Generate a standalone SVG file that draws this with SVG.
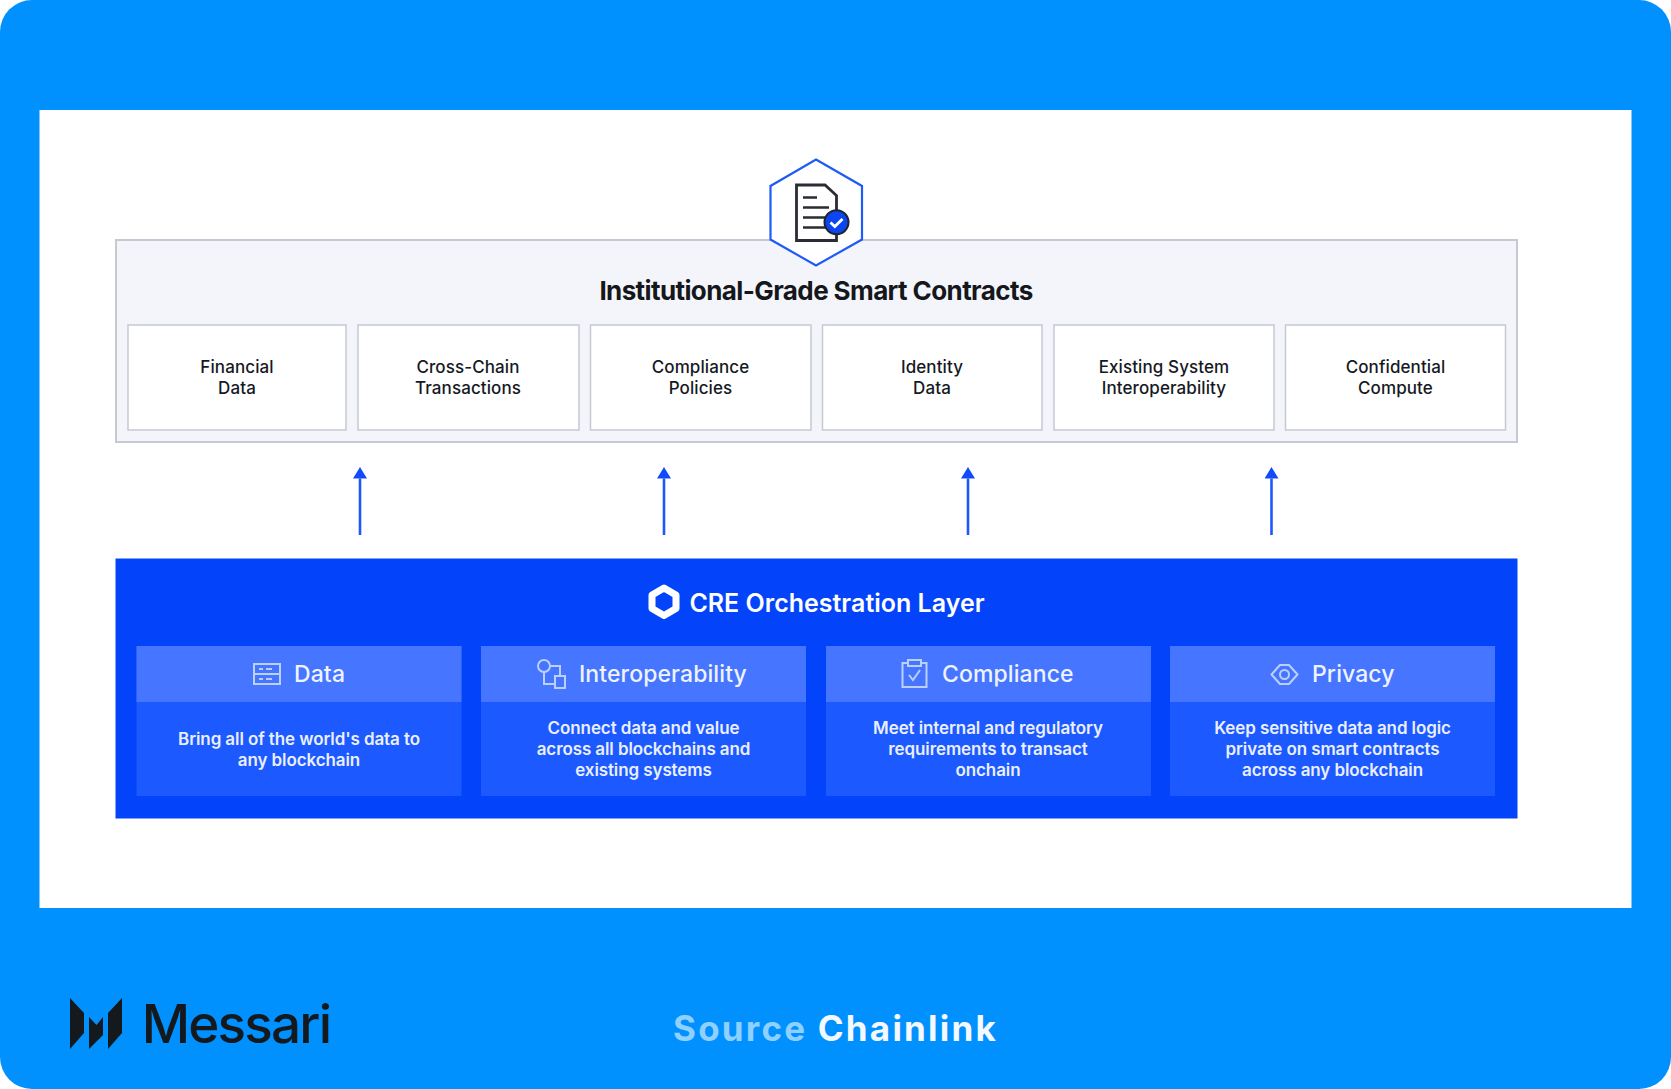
<svg xmlns="http://www.w3.org/2000/svg" width="1671" height="1089" viewBox="0 0 1671 1089">
<style>
text{font-family:Inter,"Liberation Sans",sans-serif;text-anchor:middle}
.box{fill:#fff;stroke:#c5c9d3;stroke-width:1.5}
.lab{font-size:17px;font-weight:500;fill:#16191f;letter-spacing:.1px}
.head{fill:#4675ff}.body{fill:#1c59ff}
.ht{font-size:23px;font-weight:500;fill:#eef3ff;letter-spacing:.1px;text-anchor:start}
.bt{font-size:17px;font-weight:600;fill:#e9efff;letter-spacing:-.1px}
.ic{fill:none;stroke:#bcd0ff;stroke-width:2}
.arr{stroke:#1f58fa;stroke-width:2.600;fill:none}
</style>
<defs><marker id="ah" markerUnits="userSpaceOnUse" markerWidth="12" markerHeight="14" refX="0" refY="7" orient="auto" viewBox="0 0 12 14"><path d="M0 0L11.500 7L0 14Z" fill="#0f4cf8"/></marker></defs>
<rect width="1671" height="1089" fill="#fff"/>
<rect width="1671" height="1089" rx="32" fill="#0091ff"/>
<rect x="39.500" y="110" width="1592" height="798" fill="#fff"/>
<g id="smart-contracts">
<rect x="116" y="240" width="1401" height="202" fill="#f4f5fa" stroke="#c5c9d3" stroke-width="2"/>
<text x="816" y="300" font-size="26" font-weight="700" fill="#14171c" letter-spacing="-.6">Institutional-Grade Smart Contracts</text>
</g>
<g id="hex-icon">
<path d="M816 159.500L862 186V239.500L816 265.500L770.500 239.500V186Z" fill="#fff" stroke="#1f5cf5" stroke-width="2.200"/>
<path d="M796.500 185H825L836.500 195.500V240.500H796.500Z" fill="#fff" stroke="#2a2d33" stroke-width="2.800"/>
<path d="M803 197.500H817M803 207.500H829M803 217.500H829M803 227.500H829" stroke="#2a2d33" stroke-width="2.500" fill="none"/>
<circle cx="836.500" cy="222.300" r="12" fill="#0b46f0" stroke="#20242c" stroke-width="2"/>
<path d="M830.500 222.500L834.800 226.500L842.500 219" stroke="#fff" stroke-width="2.800" fill="none"/>
</g>
<g id="financial"><rect class="box" x="128" y="325" width="218" height="105"/><text class="lab" x="237" y="373">Financial</text><text class="lab" x="237" y="394">Data</text></g>
<g id="cross-chain"><rect class="box" x="358" y="325" width="221" height="105"/><text class="lab" x="468" y="373">Cross-Chain</text><text class="lab" x="468" y="394">Transactions</text></g>
<g id="compliance-policies"><rect class="box" x="590.500" y="325" width="220.500" height="105"/><text class="lab" x="700.500" y="373">Compliance</text><text class="lab" x="700.500" y="394">Policies</text></g>
<g id="identity"><rect class="box" x="822.500" y="325" width="219.500" height="105"/><text class="lab" x="932" y="373">Identity</text><text class="lab" x="932" y="394">Data</text></g>
<g id="existing"><rect class="box" x="1054" y="325" width="220" height="105"/><text class="lab" x="1164" y="373">Existing System</text><text class="lab" x="1164" y="394">Interoperability</text></g>
<g id="confidential"><rect class="box" x="1285.500" y="325" width="220" height="105"/><text class="lab" x="1395.500" y="373">Confidential</text><text class="lab" x="1395.500" y="394">Compute</text></g>
<g id="connectors">
<path class="arr" marker-end="url(#ah)" d="M360 535V478.500"/>
<path class="arr" marker-end="url(#ah)" d="M664 535V478.500"/>
<path class="arr" marker-end="url(#ah)" d="M968 535V478.500"/>
<path class="arr" marker-end="url(#ah)" d="M1271.500 535V478.500"/>
</g>
<g id="cre-layer">
<rect x="115.500" y="558.500" width="1402" height="260" fill="#0344fb"/>
<path d="M664 588L676 595V608.500L664 615.500L652 608.500V595Z" fill="none" stroke="#fff" stroke-width="7" stroke-linejoin="round"/>
<text x="837" y="612" font-size="25" font-weight="600" fill="#fff" letter-spacing="0">CRE Orchestration Layer</text>
</g>
<g id="data">
<rect class="body" x="136.500" y="646" width="325" height="150"/><rect class="head" x="136.500" y="646" width="325" height="56"/>
<g class="ic"><rect x="254" y="664" width="26" height="20"/><path d="M254 674H280M259 669H263M266 669H272M259 679H263M266 679H272"/></g>
<text class="ht" x="294" y="682">Data</text>
<text class="bt" x="299" y="745">Bring all of the world's data to</text><text class="bt" x="299" y="766">any blockchain</text>
</g>
<g id="interoperability">
<rect class="body" x="481" y="646" width="325" height="150"/><rect class="head" x="481" y="646" width="325" height="56"/>
<g class="ic"><circle cx="544" cy="666" r="6"/><rect x="555" y="676" width="10" height="12"/><path d="M550 666H560V676M544 672V684H555"/></g>
<text class="ht" x="579" y="682">Interoperability</text>
<text class="bt" x="643.500" y="734">Connect data and value</text><text class="bt" x="643.500" y="755">across all blockchains and</text><text class="bt" x="643.500" y="776">existing systems</text>
</g>
<g id="compliance">
<rect class="body" x="826" y="646" width="325" height="150"/><rect class="head" x="826" y="646" width="325" height="56"/>
<g class="ic"><path d="M908 663H902.500V687H926.500V663H921"/><rect x="908" y="660" width="13" height="6"/><path d="M909 675L913 680L920 670"/></g>
<text class="ht" x="942" y="682">Compliance</text>
<text class="bt" x="988" y="734">Meet internal and regulatory</text><text class="bt" x="988" y="755">requirements to transact</text><text class="bt" x="988" y="776">onchain</text>
</g>
<g id="privacy">
<rect class="body" x="1170" y="646" width="325" height="150"/><rect class="head" x="1170" y="646" width="325" height="56"/>
<g class="ic"><path d="M1271.500 674.500L1280 665H1289L1297.500 674.500L1289 684H1280Z" stroke-linejoin="round"/><circle cx="1284.500" cy="674.500" r="4.500"/></g>
<text class="ht" x="1312" y="682">Privacy</text>
<text class="bt" x="1332.500" y="734">Keep sensitive data and logic</text><text class="bt" x="1332.500" y="755">private on smart contracts</text><text class="bt" x="1332.500" y="776">across any blockchain</text>
</g>
<g id="messari-logo">
<path d="M70 998L84 1013V1033L70 1049ZM122 998V1033L108 1049V1013ZM89 1017L96.500 1025L103 1017V1035L89 1049Z" fill="#14191d"/>
<text x="236" y="1043" font-size="53" font-weight="500" fill="#14191d" letter-spacing="-1.800">Messari</text>
</g>
<text x="835.500" y="1041" font-size="35" font-weight="700" letter-spacing="2.200"><tspan fill="#8fd0ff">Source </tspan><tspan fill="#f4f9ff">Chainlink</tspan></text>
</svg>
